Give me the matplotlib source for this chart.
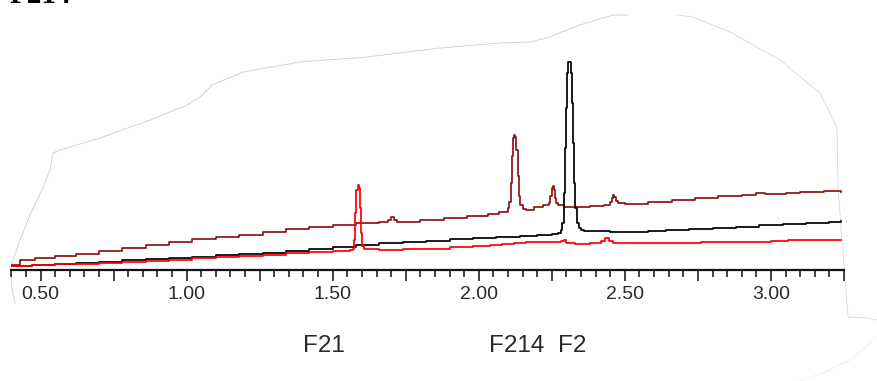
import matplotlib
matplotlib.use("Agg")
import matplotlib.pyplot as plt
from matplotlib.lines import Line2D
from matplotlib.ticker import MultipleLocator, FuncFormatter

# ---- data (retention time, signal) ----
darkred_t = [0.40, 0.43, 0.48, 0.55, 0.62, 0.70, 0.78, 0.86, 0.94, 1.02, 1.10, 1.18, 1.26, 1.34,
             1.42, 1.50, 1.58, 1.66, 1.690, 1.700, 1.710, 1.72, 1.80, 1.88, 1.96, 2.03, 2.07, 2.10,
             2.105, 2.109, 2.113, 2.117, 2.121, 2.125, 2.129, 2.133, 2.137, 2.142, 2.150, 2.16,
             2.19, 2.22, 2.24, 2.245, 2.249, 2.253, 2.257, 2.261, 2.266, 2.27, 2.29, 2.33, 2.38,
             2.43, 2.45, 2.455, 2.459, 2.464, 2.470, 2.478, 2.50, 2.58, 2.66, 2.74, 2.82, 2.90,
             2.95, 2.98, 3.05, 3.10, 3.18, 3.24]
darkred_y = [3, 8, 10, 12, 14, 17, 20, 23, 26, 29, 31, 33, 36, 39,
             41, 43, 45, 46, 48, 51, 48, 46, 48, 50, 52, 54, 56, 60,
             66, 85, 112, 130, 133, 131, 118, 92, 72, 63, 59, 58,
             61, 63, 65, 72, 80, 82, 78, 70, 65, 63, 61, 61, 62,
             63, 66, 70, 73, 71, 67, 65, 64, 66, 68, 70, 72, 73,
             75, 74, 75, 76, 77, 76]

black_t = [0.40, 0.47, 0.55, 0.62, 0.70, 0.78, 0.86, 0.94, 1.02, 1.10, 1.18, 1.26, 1.34, 1.42,
           1.50, 1.58, 1.66, 1.74, 1.82, 1.90, 1.98, 2.06, 2.14, 2.20, 2.25, 2.27, 2.28, 2.285,
           2.290, 2.294, 2.298, 2.302, 2.306, 2.311, 2.315, 2.319, 2.323, 2.327, 2.331, 2.336,
           2.342, 2.35, 2.36, 2.45, 2.52, 2.58, 2.64, 2.72, 2.80, 2.88, 2.96, 3.04, 3.12, 3.20, 3.24]
black_y = [2, 3, 4, 5, 6, 8, 9, 10, 11, 13, 14, 15, 17, 19,
           21, 23, 25, 26, 27, 29, 30, 31, 32, 33, 34, 35, 38, 45,
           75, 120, 160, 195, 206, 206, 195, 165, 125, 85, 60, 45,
           40, 38, 37, 36, 36, 37, 38, 39, 40, 41, 43, 44, 45, 46, 47]

red_t = [0.40, 0.47, 0.55, 0.62, 0.70, 0.78, 0.86, 0.94, 1.02, 1.10, 1.18, 1.26, 1.34, 1.42,
         1.50, 1.56, 1.568, 1.573, 1.577, 1.581, 1.585, 1.589, 1.593, 1.597, 1.601, 1.606, 1.66,
         1.74, 1.82, 1.90, 1.98, 2.04, 2.08, 2.12, 2.16, 2.20, 2.25, 2.28, 2.29, 2.30, 2.33, 2.38,
         2.42, 2.432, 2.445, 2.46, 2.54, 2.62, 2.70, 2.76, 2.84, 2.92, 3.00, 3.06, 3.14, 3.24]
red_y = [2, 3, 4, 4, 5, 6, 7, 8, 10, 11, 12, 13, 15, 16,
         17, 18, 19, 28, 55, 78, 83, 80, 60, 35, 22, 19, 18,
         19, 19, 21, 22, 23, 24, 25, 26, 26, 26, 27, 28, 25, 24, 25,
         27, 30, 27, 25, 25, 25, 25, 26, 26, 26, 27, 28, 28, 28]

peak_labels = ["F21", "F214", "F2"]
peak_label_x = [1.47, 2.13, 2.32]
title_text = "F214"

# ---- figure ----
W, H = 877, 381
fig = plt.figure(figsize=(W / 100, H / 100), dpi=100)
fig.patch.set_facecolor("white")

x0_px, x1_px, axis_px = 11.3, 844.0, 270.0
ax = fig.add_axes([x0_px / W, (H - axis_px) / H, (x1_px - x0_px) / W, axis_px / H])
ax.set_xlim(0.40, 3.25)
ax.set_ylim(-2, 268)
ax.patch.set_alpha(0)

lw = 1.25
ax.plot(darkred_t, darkred_y, color="#8c1414", lw=lw, drawstyle="steps-post", zorder=3)
ax.plot(black_t, black_y, color="#000000", lw=lw, drawstyle="steps-post", zorder=4)
ax.plot(red_t, red_y, color="#ff0000", lw=lw, drawstyle="steps-post", zorder=5)

for s in ["top", "right", "left"]:
    ax.spines[s].set_visible(False)
ax.spines["bottom"].set_linewidth(1.6)
ax.spines["bottom"].set_color("#111111")
ax.set_yticks([])

ax.xaxis.set_major_locator(MultipleLocator(0.25))
ax.xaxis.set_minor_locator(MultipleLocator(0.05))
ax.xaxis.set_major_formatter(FuncFormatter(
    lambda v, p: f"{v:.2f}" if abs(v * 2 - round(v * 2)) < 1e-6 else ""))
ax.tick_params(axis="x", which="major", direction="out", length=8, width=1.1,
               color="#111111", pad=3.5, labelsize=14, labelcolor="#2a2a2a")
ax.tick_params(axis="x", which="minor", direction="out", length=5, width=1.1, color="#111111")
for t in ax.get_xticklabels():
    t.set_fontfamily("Liberation Sans")

# peak labels below the axis
for lab, t in zip(peak_labels, peak_label_x):
    fx = (x0_px + (t - 0.40) / (3.25 - 0.40) * (x1_px - x0_px)) / W
    fig.text(fx, 1 - 346 / H, lab, ha="center", va="center", fontsize=17.5,
             family="Liberation Sans", color="#2a2a2a")

# partially cut-off heading at top-left (cut by the image edge, as in the source)
fig.text(10 / W, 1 - 3 / H, title_text, ha="left", va="baseline", fontsize=21,
         family="Liberation Serif", fontweight="bold", color="black")

# faint torn-paper outline (decorative)
outline_a = [(15, 303), (12, 290), (11, 270), (12, 263), (20, 240), (30, 215), (42, 190),
             (50, 170), (53, 153), (60, 150), (100, 138), (150, 120), (187, 105), (200, 97),
             (212, 85), (243, 72), (300, 62), (367, 57), (440, 48), (500, 43), (530, 42),
             (547, 38), (580, 25), (613, 15), (628, 15)]
outline_b = [(677, 15), (693, 17), (730, 32), (780, 60), (820, 93), (837, 127), (838, 187),
             (843, 253), (848, 317), (867, 318), (877, 320)]
outline_c = [(877, 337), (850, 360), (823, 373), (800, 381)]
for pts, c in [(outline_a, "#d2d2d2"), (outline_b, "#dedede"), (outline_c, "#f0f0f0")]:
    xs = [p[0] / W for p in pts]
    ys = [1 - p[1] / H for p in pts]
    fig.add_artist(Line2D(xs, ys, transform=fig.transFigure, color=c, lw=0.7, zorder=0))

fig.savefig("out.png", dpi=100, facecolor="white")
